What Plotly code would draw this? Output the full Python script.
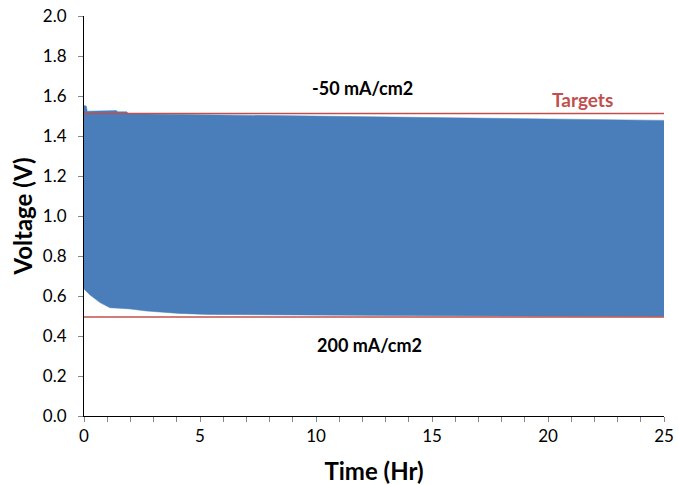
import plotly.graph_objects as go

# Upper envelope of the cycling voltage band (charge at -50 mA/cm2)
upper_t = [0, 0.1, 0.14, 0.7, 0.75, 1.4, 1.45, 1.85, 1.9, 5, 10, 15, 18, 20, 25]
upper_v = [1.552, 1.55, 1.524, 1.524, 1.527, 1.527, 1.521, 1.521, 1.511, 1.507, 1.500, 1.492, 1.488, 1.484, 1.478]

# Lower envelope (discharge at 200 mA/cm2)
lower_t = [0, 0.26, 0.69, 1.12, 1.5, 2.0, 2.7, 3.4, 4.1, 5.3, 8.6, 15, 20, 25]
lower_v = [0.635, 0.605, 0.567, 0.541, 0.539, 0.535, 0.525, 0.518, 0.513, 0.508, 0.505, 0.501, 0.499, 0.497]

# Target lines
target_t = [0, 25]
target_high = [1.513, 1.513]
target_low = [0.495, 0.495]

font = "Lato, 'Open Sans', Arial, sans-serif"
blue = "#4A7EBB"
red = "#C0504D"

fig = go.Figure()
fig.add_trace(go.Scatter(x=lower_t, y=lower_v, mode="lines", line=dict(color=blue, width=0.5),
                         showlegend=False, hoverinfo="skip"))
fig.add_trace(go.Scatter(x=upper_t, y=upper_v, mode="lines", line=dict(color=blue, width=0.5),
                         fill="tonexty", fillcolor=blue, showlegend=False))
fig.add_trace(go.Scatter(x=target_t, y=target_high, mode="lines", line=dict(color=red, width=1.5),
                         showlegend=False))
fig.add_trace(go.Scatter(x=target_t, y=target_low, mode="lines", line=dict(color=red, width=1.5),
                         showlegend=False))

fig.add_annotation(x=12.0, y=1.64, text="<b>-50 mA/cm2</b>", showarrow=False,
                   font=dict(family=font, size=18, color="black"))
fig.add_annotation(x=21.5, y=1.585, text="<b>Targets</b>", showarrow=False,
                   font=dict(family=font, size=19, color=red))
fig.add_annotation(x=12.3, y=0.355, text="<b>200 mA/cm2</b>", showarrow=False,
                   font=dict(family=font, size=18, color="black"))

fig.update_layout(
    width=678, height=485,
    margin=dict(l=84, r=14, t=16, b=69),
    plot_bgcolor="white", paper_bgcolor="white",
    font=dict(family=font, size=17, color="black"),
    xaxis=dict(range=[0, 25], tickvals=[0, 5, 10, 15, 20, 25], showgrid=False, zeroline=False,
               showline=True, linecolor="black", linewidth=1, ticks="outside", ticklen=5,
               tickcolor="#888", tickfont=dict(size=17), automargin=False,
               ticklabeloverflow="allow",
               minor=dict(dtick=1, ticks="outside", ticklen=5, tickcolor="#888"),
               title=dict(text="<b>Time (Hr)</b>", font=dict(size=24), standoff=17)),
    yaxis=dict(range=[0, 2.0], tickvals=[0, 0.2, 0.4, 0.6, 0.8, 1.0, 1.2, 1.4, 1.6, 1.8, 2.0],
               tickformat=".1f", showgrid=False, zeroline=False, automargin=False,
               ticklabeloverflow="allow", ticklabelstandoff=8,
               showline=True, linecolor="black", linewidth=1, ticks="outside", ticklen=5,
               tickcolor="#888", tickfont=dict(size=17),
               title=dict(text="<b>Voltage (V)</b>", font=dict(size=24), standoff=3)),
)

fig.write_html("out.html", config={"displayModeBar": False},
               post_script="document.body.style.margin='0';document.body.style.overflow='hidden';")
